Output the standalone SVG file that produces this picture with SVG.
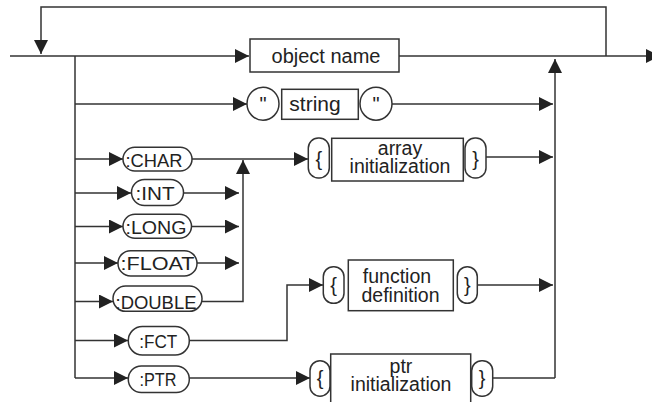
<svg xmlns="http://www.w3.org/2000/svg" width="652" height="402" viewBox="0 0 652 402">
<style>
.ln{fill:none;stroke:#333;stroke-width:1.5}
.bx{fill:#fff;stroke:#333;stroke-width:1.5}
.t{font-family:"Liberation Sans",Arial,sans-serif;font-size:20px;fill:#222;text-anchor:middle}
.p{font-family:"Liberation Sans",Arial,sans-serif;font-size:18px;fill:#222;text-anchor:middle}
</style>
<defs>
<marker id="ah" markerUnits="userSpaceOnUse" markerWidth="14" markerHeight="14" refX="14" refY="7" orient="auto">
<path d="M0,0 L14,7 L0,14 Z" fill="#222"/>
</marker>
</defs>
<g id="connectors">
<path class="ln" d="M606,56 V7 H41 V54" marker-end="url(#ah)"/>
<path class="ln" d="M10,56 H249" marker-end="url(#ah)"/>
<path class="ln" d="M399,56 H660" marker-end="url(#ah)"/>
<path class="ln" d="M75,56 V378"/>
<path class="ln" d="M555,378 V59" marker-end="url(#ah)"/>
<path class="ln" d="M75,104 H247" marker-end="url(#ah)"/>
<path class="ln" d="M392,104 H553" marker-end="url(#ah)"/>
<path class="ln" d="M75,159 H123" marker-end="url(#ah)"/>
<path class="ln" d="M192,159 H308" marker-end="url(#ah)"/>
<path class="ln" d="M202,301.5 H243 V160" marker-end="url(#ah)"/>
<path class="ln" d="M75,193 H131" marker-end="url(#ah)"/>
<path class="ln" d="M183.5,193 H239" marker-end="url(#ah)"/>
<path class="ln" d="M75,226.5 H123" marker-end="url(#ah)"/>
<path class="ln" d="M191.5,226.5 H239" marker-end="url(#ah)"/>
<path class="ln" d="M75,263 H118" marker-end="url(#ah)"/>
<path class="ln" d="M197,263 H239" marker-end="url(#ah)"/>
<path class="ln" d="M75,301.5 H113" marker-end="url(#ah)"/>
<path class="ln" d="M75,340.5 H128" marker-end="url(#ah)"/>
<path class="ln" d="M189,340.5 H287 V285 H323" marker-end="url(#ah)"/>
<path class="ln" d="M75,378 H128" marker-end="url(#ah)"/>
<path class="ln" d="M189,378 H310" marker-end="url(#ah)"/>
<path class="ln" d="M486,157 H553" marker-end="url(#ah)"/>
<path class="ln" d="M477,285 H553" marker-end="url(#ah)"/>
<path class="ln" d="M492,378 H555"/>
</g>
<g id="object-name">
<rect class="bx" x="250" y="39" width="149" height="33"/>
<text class="t" x="326" y="63">object name</text>
</g>
<g id="string">
<ellipse class="bx" cx="263" cy="103.7" rx="16" ry="16.5"/>
<text class="t" x="263" y="111">"</text>
<rect class="bx" x="281.7" y="89.3" width="76.6" height="30"/>
<text class="t" x="315" y="111" style="font-size:21px">string</text>
<ellipse class="bx" cx="376" cy="103.7" rx="16" ry="16.5"/>
<text class="t" x="376" y="111">"</text>
</g>
<g id="char">
<rect class="bx" x="123" y="147.3" width="69" height="23.7" rx="11.8"/>
<text class="p" x="154" y="166.5" textLength="57" lengthAdjust="spacingAndGlyphs">:CHAR</text>
</g>
<g id="int">
<rect class="bx" x="131.5" y="179.5" width="52" height="26" rx="13"/>
<text class="p" x="155" y="200" textLength="39" lengthAdjust="spacingAndGlyphs">:INT</text>
</g>
<g id="long">
<rect class="bx" x="123" y="214.3" width="68.5" height="24" rx="12"/>
<text class="p" x="156" y="233.5" textLength="61" lengthAdjust="spacingAndGlyphs">:LONG</text>
</g>
<g id="float">
<rect class="bx" x="118" y="250.7" width="79" height="25.3" rx="12.6"/>
<text class="p" x="157.5" y="270" textLength="74" lengthAdjust="spacingAndGlyphs">:FLOAT</text>
</g>
<g id="double">
<rect class="bx" x="113" y="286" width="89" height="25.3" rx="12.6"/>
<text class="p" x="156" y="308.5" textLength="81" lengthAdjust="spacingAndGlyphs">:DOUBLE</text>
</g>
<g id="fct">
<rect class="bx" x="128.3" y="326.5" width="61" height="28.5" rx="14"/>
<text class="p" x="158.3" y="347.5" textLength="38" lengthAdjust="spacingAndGlyphs">:FCT</text>
</g>
<g id="ptr">
<rect class="bx" x="128.3" y="366" width="61" height="26.5" rx="13"/>
<text class="p" x="158" y="385.5" textLength="37" lengthAdjust="spacingAndGlyphs">:PTR</text>
</g>
<g id="array-initialization">
<rect class="bx" x="308.3" y="138" width="21" height="40" rx="10"/>
<text class="t" x="318.8" y="166">{</text>
<rect class="bx" x="331.7" y="138.3" width="131.6" height="42.7"/>
<text class="t" x="400" y="155" style="font-size:19.5px">array</text>
<text class="t" x="400" y="173.3" style="font-size:19.5px">initialization</text>
<rect class="bx" x="465" y="138" width="21" height="40" rx="10"/>
<text class="t" x="475.5" y="166">}</text>
</g>
<g id="function-definition">
<rect class="bx" x="323.3" y="266.7" width="20.7" height="36.6" rx="10"/>
<text class="t" x="333.6" y="292">{</text>
<rect class="bx" x="348.3" y="260" width="105" height="50.7"/>
<text class="t" x="397" y="283.3" style="font-size:19.5px">function</text>
<text class="t" x="400.5" y="301.7" style="font-size:19.5px">definition</text>
<rect class="bx" x="457.3" y="266.7" width="20" height="36.6" rx="10"/>
<text class="t" x="467.3" y="292">}</text>
</g>
<g id="ptr-initialization">
<rect class="bx" x="310" y="360.7" width="20" height="35.5" rx="10"/>
<text class="t" x="320" y="385">{</text>
<rect class="bx" x="330.7" y="354" width="140" height="52"/>
<text class="t" x="401" y="372.7" style="font-size:19.5px">ptr</text>
<text class="t" x="401" y="390.7" style="font-size:19.5px">initialization</text>
<rect class="bx" x="471.7" y="360.7" width="21" height="35.5" rx="10"/>
<text class="t" x="482.2" y="385">}</text>
</g>
</svg>
